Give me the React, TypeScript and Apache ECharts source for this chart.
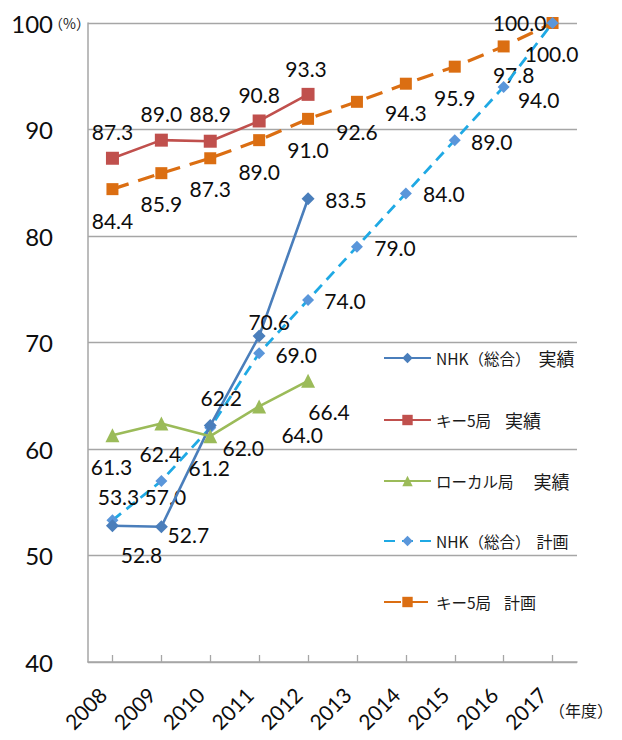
import React, { useEffect, useRef } from 'react';
import * as echarts from 'echarts';

// ---- data ----
const years = ['2008', '2009', '2010', '2011', '2012', '2013', '2014', '2015', '2016', '2017'];
const nhkActual = [52.8, 52.7, 62.2, 70.6, 83.5];
const key5Actual = [87.3, 89.0, 88.9, 90.8, 93.3];
const localActual = [61.3, 62.4, 61.2, 64.0, 66.4];
const nhkPlan = [53.3, 57.0, 62.0, 69.0, 74.0, 79.0, 84.0, 89.0, 94.0, 100.0];
const key5Plan = [84.4, 85.9, 87.3, 89.0, 91.0, 92.6, 94.3, 95.9, 97.8, 100.0];
const yMin = 40;
const yMax = 100;
const yStep = 10;

const seriesNames = ['NHK（総合） 実績', 'キー5局 実績', 'ローカル局 実績', 'NHK（総合） 計画', 'キー5局 計画'];

// ---- label placement (style only) ----
const nhkActualOff = [[29, 29], [27, 8], [11, -28], [10, -15], [38, 1]];
const key5ActualOff = [[0, -27], [0, -27], [0, -28], [0, -26], [-2, -26]];
const localOff = [[-1, 31], [-1, 30], [-1, 31], [43, 28], [21, 31]];
const nhkPlanOff = [[6, -24], [4, 16], [33, 20], [37, 1], [37, 1], [38, 1], [38, 0], [37, 1], [35, 13], [-1, 30]];
const key5PlanOff = [[0, 31], [0, 30], [0, 30], [0, 31], [0, 31], [0, 30], [0, 29], [0, 31], [10, 28], [-33, -1]];

const NUM_FONT = 'Lato, "Open Sans", sans-serif';
const JP_FONT = '"Noto Sans CJK JP", "Noto Sans", sans-serif';

function withLabels(values: number[], offs: number[][]) {
  return values.map((v, i) => ({ value: v, label: { offset: offs[i] } }));
}

const baseLabel = {
  show: true,
  position: 'inside',
  fontFamily: NUM_FONT,
  fontSize: 21,
  color: '#0d0d0d',
  formatter: (p: any) => Number(p.value).toFixed(1),
};

const legendTops = [349, 411, 472, 533, 594];
const legendGaps = [8, 14, 20, 6, 13];
const legendSuffixSize = [18, 18, 18, 16, 16];

export default function App() {
  const ref = useRef<HTMLDivElement>(null);
  useEffect(() => {
    document.body.style.margin = '0';
    const chart = echarts.init(ref.current!, null, { renderer: 'svg' });
    const legends = seriesNames.map((n, i) => ({
      data: [n],
      left: 383,
      top: legendTops[i],
      padding: 0,
      itemWidth: 47,
      itemHeight: 13,
      itemGap: 4,
      selectedMode: false,
      formatter: (name: string) => {
        const parts = name.split(' ');
        return `{a|${parts[0]}}{b|${parts[1]}}`;
      },
      textStyle: {
        rich: {
          a: { fontFamily: JP_FONT, fontSize: 15.5, color: '#1a1a1a' },
          b: { fontFamily: JP_FONT, fontSize: legendSuffixSize[i], color: '#1a1a1a', padding: [0, 0, 0, legendGaps[i]] },
        },
      },
    }));
    const option: any = {
      animation: false,
      backgroundColor: '#ffffff',
      grid: { left: 88, right: 45, top: 23, bottom: 78 },
      legend: legends,
      xAxis: {
        type: 'category',
        data: years,
        boundaryGap: true,
        axisLine: { show: true, lineStyle: { color: '#A6A6A6', width: 1.5 } },
        axisTick: { show: true, alignWithLabel: true, inside: true, length: 7, lineStyle: { color: '#A6A6A6', width: 1.3 } },
        axisLabel: { rotate: 45, margin: 19, padding: [0, 14, 0, 0], fontFamily: NUM_FONT, fontSize: 21, color: '#0d0d0d' },
        splitLine: { show: false },
      },
      yAxis: {
        type: 'value',
        min: yMin,
        max: yMax,
        interval: yStep,
        axisLine: { show: true, lineStyle: { color: '#A6A6A6', width: 1.5 } },
        axisTick: { show: false },
        axisLabel: { margin: 35, fontFamily: NUM_FONT, fontSize: 24, color: '#0d0d0d' },
        splitLine: { show: true, lineStyle: { color: '#A6A6A6', width: 1.3 } },
      },
      graphic: [
        { type: 'text', left: 49, top: 16, style: { text: '（%）', font: `14px ${JP_FONT}`, fill: '#1a1a1a' } },
        { type: 'text', left: 549, top: 702, style: { text: '（年度）', font: `16px ${JP_FONT}`, fill: '#1a1a1a' } },
      ],
      series: [
        {
          name: seriesNames[4],
          type: 'line',
          data: withLabels(key5Plan, key5PlanOff),
          symbol: 'rect',
          symbolSize: 12,
          itemStyle: { color: '#DB6E12' },
          lineStyle: { color: '#DB6E12', width: 3.2, type: [17, 10] },
          label: baseLabel,
          z: 2,
        },
        {
          name: seriesNames[3],
          type: 'line',
          data: withLabels(nhkPlan, nhkPlanOff),
          symbol: 'diamond',
          symbolSize: 12,
          itemStyle: { color: '#5A96DA' },
          lineStyle: { color: '#1FA9E4', width: 2.8, type: [11, 7] },
          label: baseLabel,
          z: 3,
        },
        {
          name: seriesNames[0],
          type: 'line',
          data: withLabels(nhkActual, nhkActualOff),
          symbol: 'diamond',
          symbolSize: 13,
          itemStyle: { color: '#4A7EBB' },
          lineStyle: { color: '#4A7EBB', width: 2.6 },
          label: baseLabel,
          z: 4,
        },
        {
          name: seriesNames[1],
          type: 'line',
          data: withLabels(key5Actual, key5ActualOff),
          symbol: 'rect',
          symbolSize: 13,
          itemStyle: { color: '#C0504D' },
          lineStyle: { color: '#C0504D', width: 2.6 },
          label: baseLabel,
          z: 4,
        },
        {
          name: seriesNames[2],
          type: 'line',
          data: withLabels(localActual, localOff),
          symbol: 'triangle',
          symbolSize: 14,
          itemStyle: { color: '#9BBB59' },
          lineStyle: { color: '#9BBB59', width: 2.6 },
          label: baseLabel,
          z: 4,
        },
      ],
    };
    chart.setOption(option);
    return () => chart.dispose();
  }, []);
  return <div ref={ref} style={{ width: 622, height: 740 }} />;
}
